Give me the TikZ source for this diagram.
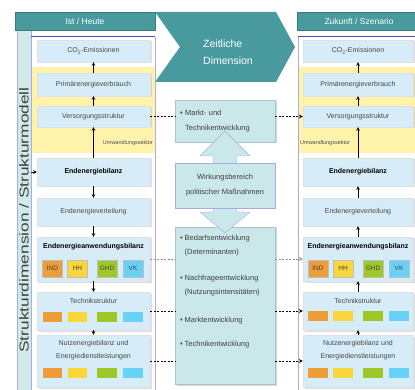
\documentclass[tikz,border=0pt]{standalone}
\usepackage{fontspec}
\setmainfont{Liberation Sans}
\usetikzlibrary{shadows}
\tikzstyle{every path}=[line width=0.4pt]
\definecolor{headteal}{RGB}{72,154,158}
\definecolor{boxblue}{RGB}{214,236,249}
\definecolor{convyellow}{RGB}{255,243,172}
\definecolor{midteal}{RGB}{202,231,234}
\definecolor{framelav}{RGB}{170,170,228}
\definecolor{frametop}{RGB}{72,72,190}
\definecolor{stripteal}{RGB}{208,234,234}
\definecolor{industry}{RGB}{238,158,56}
\definecolor{household}{RGB}{250,214,58}
\definecolor{trade}{RGB}{158,200,40}
\definecolor{traffic}{RGB}{104,210,246}
\tikzstyle{header}=[fill=headteal, draw=headteal!80!black, text=white, minimum height=18pt, inner sep=0pt, font=\fontsize{8.5}{10}\selectfont]
\tikzstyle{strip}=[fill=stripteal, draw=framelav, rotate=90, inner sep=0pt, text=black!75, font=\fontsize{13}{14}\selectfont]
\tikzstyle{lbox}=[fill=boxblue, draw=black!12, minimum width=113pt, inner sep=1pt, align=center, text=black!72, font=\fontsize{7}{13}\selectfont, drop shadow={shadow xshift=1.5pt, shadow yshift=-1.5pt, fill=black!25}]
\tikzstyle{rbox}=[lbox, minimum width=110pt]
\tikzstyle{inlabel}=[anchor=north, align=center, text=black!72, font=\fontsize{7}{13}\selectfont]
\tikzstyle{cat}=[minimum width=20pt, minimum height=17pt, inner sep=0pt, draw=black!25, text=black!75, font=\fontsize{6.5}{7}\selectfont]
\tikzstyle{conv}=[inner sep=0pt, text=black!70, font=\fontsize{5.5}{6}\selectfont]
\tikzstyle{midbox}=[fill=midteal, draw=midteal!85!black, minimum width=100pt, inner sep=5pt, drop shadow={shadow xshift=1.5pt, shadow yshift=-1.5pt, fill=black!30}]
\tikzstyle{bullets}=[align=left, inner xsep=5pt, inner ysep=8pt, text=black!75, font=\fontsize{7.5}{14.5}\selectfont]
\tikzstyle{flow}=[-stealth, line width=0.6pt]
\tikzstyle{link}=[dash pattern=on 2pt off 1.5pt, line width=0.8pt]

\begin{document}
\begin{tikzpicture}[x=1pt, y=-1pt]
            \useasboundingbox (0,0) rectangle (415,390);

            \node[strip, minimum width=380pt, minimum height=14pt] (struct) at (24,220)
                {\scalebox{1.33}[1]{Strukturdimension / Strukturmodell}};
            \node[header, minimum width=140pt] (ist) at (85,21) {Ist / Heute};
            \node[header, minimum width=124pt] (zukunft) at (359,21) {Zukunft / Szenario};

            \fill[headteal] (155,12) -- (276,12) -- (295,47) -- (276,82) -- (155,82) -- (180,47) -- cycle;
            \node[align=left, text=white, font=\fontsize{10.5}{17}\selectfont] (zeit) at (228,52) {Zeitliche\\Dimension};

            \draw[framelav] (155,37) -- (155,400);
            \draw[framelav] (298,37) -- (298,400);
            \draw[frametop, line width=1pt] (31,37) -- (155,37);
            \draw[frametop, line width=1pt] (298,37) -- (420,37);
            \fill[convyellow] (32,67) rectangle (154.5,153);
            \fill[convyellow] (298.5,67) rectangle (415,153);
            \node[conv, anchor=east] (umwl) at (153,143) {Umwandlungssektor};
            \node[conv, anchor=west] (umwr) at (300,143) {Umwandlungssektor};

            \node[lbox, minimum height=22pt] (co2l) at (93.5,51) {CO\textsubscript{2}-Emissionen};
            \node[lbox, minimum height=23pt] (priml) at (93.5,84.5) {Primärenergieverbrauch};
            \node[lbox, minimum height=21pt] (versl) at (93.5,116.5) {Versorgungsstruktur};
            \node[lbox, minimum height=28pt, text=black] (ebill) at (93.5,172) {\textbf{Endenergiebilanz}};
            \node[lbox, minimum height=28pt] (evertl) at (93.5,212) {Endenergieverteilung};
            \node[lbox, minimum height=44pt,
                label={[inlabel, text=black, yshift=-3pt]north:\textbf{Endenergieanwendungsbilanz}}] (eanwl) at (93.5,259) {};
            \node[lbox, minimum height=38pt,
                label={[inlabel, yshift=-3pt]north:Technikstruktur}] (techl) at (93.5,311) {};
            \node[lbox, minimum height=52pt,
                label={[inlabel, yshift=-2pt]north:Nutzenergiebilanz und\\Energiedienstleistungen}] (nutzl) at (93.5,361) {};

            \node[rbox, minimum height=22pt] (co2r) at (358,51) {CO\textsubscript{2}-Emissionen};
            \node[rbox, minimum height=23pt] (primr) at (358,84.5) {Primärenergieverbrauch};
            \node[rbox, minimum height=21pt] (versr) at (358,116.5) {Versorgungsstruktur};
            \node[rbox, minimum height=28pt, text=black] (ebilr) at (358,172) {\textbf{Endenergiebilanz}};
            \node[rbox, minimum height=28pt] (evertr) at (358,212) {Endenergieverteilung};
            \node[rbox, minimum height=44pt,
                label={[inlabel, text=black, yshift=-3pt]north:\textbf{Endenergieanwendungsbilanz}}] (eanwr) at (358,259) {};
            \node[rbox, minimum height=38pt,
                label={[inlabel, yshift=-3pt]north:Technikstruktur}] (techr) at (358,311) {};
            \node[rbox, minimum height=52pt,
                label={[inlabel, yshift=-2pt]north:Nutzenergiebilanz und\\Energiedienstleistungen}] (nutzr) at (358,361) {};

            \node[cat, fill=industry] (indl) at (52.5,268.5) {IND};
            \node[cat, fill=household] (hhl) at (77.5,268.5) {HH};
            \node[cat, fill=trade] (ghdl) at (107,268.5) {GHD};
            \node[cat, fill=traffic] (vkl) at (133,268.5) {VK};
            \node[cat, fill=industry] (indr) at (318,268.5) {IND};
            \node[cat, fill=household] (hhr) at (343,268.5) {HH};
            \node[cat, fill=trade] (ghdr) at (373,268.5) {GHD};
            \node[cat, fill=traffic] (vkr) at (399,268.5) {VK};

            \fill[industry] (43,312) rectangle (62,322);
            \fill[household] (68,312) rectangle (87,322);
            \fill[trade] (97,312) rectangle (117,322);
            \fill[traffic] (123,312) rectangle (143,322);
            \fill[industry] (43,368) rectangle (62,378);
            \fill[household] (68,368) rectangle (87,378);
            \fill[trade] (97,368) rectangle (117,378);
            \fill[traffic] (123,368) rectangle (143,378);
            \fill[industry] (308,311) rectangle (328,321);
            \fill[household] (333,311) rectangle (353,321);
            \fill[trade] (363,311) rectangle (383,321);
            \fill[traffic] (389,311) rectangle (409,321);
            \fill[industry] (308,368) rectangle (328,378);
            \fill[household] (333,368) rectangle (353,378);
            \fill[trade] (363,368) rectangle (383,378);
            \fill[traffic] (389,368) rectangle (409,378);

            \node[midbox, minimum height=42pt, text width=90pt, align=left, text=black!75,
                font=\fontsize{7.5}{14.5}\selectfont] (markt) at (225,121)
                {\textbullet\ Markt- und\\\phantom{\textbullet\ }Technikentwicklung};
            \node[midbox, minimum height=157pt] (bedarf) at (225,305.5) {};
            \node[bullets, anchor=north west] (bedarftext) at (bedarf.north west)
                {\textbullet\ Bedarfsentwicklung\\
                 \phantom{\textbullet\ }(Determinanten)\\[11pt]
                 \textbullet\ Nachfrageentwicklung\\
                 \phantom{\textbullet\ }(Nutzungsintensitäten)\\[13pt]
                 \textbullet\ Marktentwicklung\\[10pt]
                 \textbullet\ Technikentwicklung};
            \filldraw[fill=midteal, draw=framelav] (225,131) -- (250,156) -- (237,156) -- (237,212)
                -- (250,212) -- (225,233) -- (200,212) -- (213,212) -- (213,156) -- (200,156) -- cycle;
            \node[fill=midteal, draw=framelav, minimum width=100pt, minimum height=45pt, align=center,
                text=black!75, font=\fontsize{7.5}{15}\selectfont] (wirk) at (225,185.5)
                {Wirkungsbereich\\politischer Maßnahmen};

            \draw[flow] (priml.north) -- (co2l.south);
            \draw[flow] (versl.north) -- (priml.south);
            \draw[flow] (ebill.north) -- (versl.south);
            \draw[flow] (ebill.south) -- (evertl.north);
            \draw[flow] (evertl.south) -- (eanwl.north);
            \draw[flow] (eanwl.south) -- (techl.north);
            \draw[flow] (techl.south) -- (nutzl.north);
            \draw[flow] (ebill.west -| struct.south) -- (ebill.west);

            \draw[flow] (primr.north) -- (co2r.south);
            \draw[flow] (versr.north) -- (primr.south);
            \draw[flow] (ebilr.north) -- (versr.south);
            \draw[flow] (evertr.north) -- (ebilr.south);
            \draw[flow] (eanwr.north) -- (evertr.south);
            \draw[flow] (techr.north) -- (eanwr.south);
            \draw[flow] (nutzr.north) -- (techr.south);

            \draw[link] (versl.east) -- (versl.east -| markt.west);
            \draw[link, -stealth] (markt.east |- versr.west) -- (versr.west);
            \draw[link, black!45] (eanwl.east) -- (eanwl.east -| bedarf.west);
            \draw[link, black!45, -stealth] (bedarf.east |- eanwr.west) -- (eanwr.west);
            \draw[link] (techl.east) -- (techl.east -| bedarf.west);
            \draw[link, -stealth] (bedarf.east |- techr.west) -- (techr.west);
            \draw[link] (nutzl.east) -- (nutzl.east -| bedarf.west);
            \draw[link, -stealth] (bedarf.east |- nutzr.west) -- (nutzr.west);
        \end{tikzpicture}
\end{document}
